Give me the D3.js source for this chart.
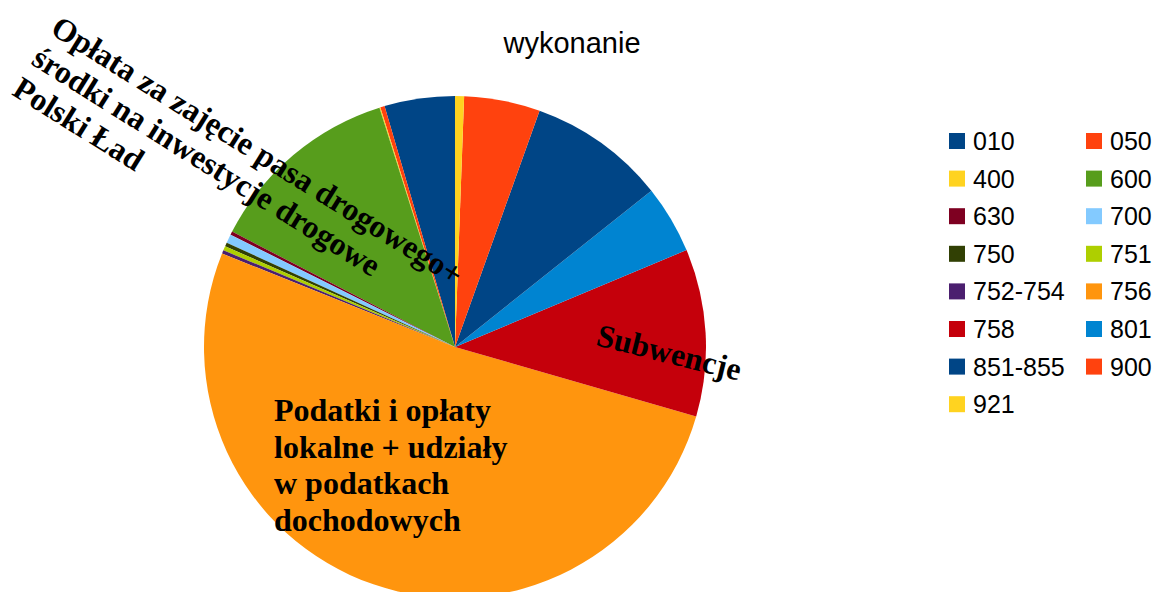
<!DOCTYPE html>
<html lang="pl">
<head>
    <meta charset="UTF-8">
    <title>wykonanie</title>
    <script src="https://d3js.org/d3.v7.min.js"></script>
    <style>
        body { margin: 0; background: #fff; }
        svg { display: block; }
    </style>
</head>
<body>
    <script>
        var w = 1155;
        var h = 592;

        // chapters (legend order) and their share of the total, in %
        var categories = ["010", "050", "400", "600", "630", "700", "750", "751",
                          "752-754", "756", "758", "801", "851-855", "900", "921"];
        var shares = [4.53, 0.28, 0.06, 12.53, 0.22, 0.56, 0.25, 0.28,
                      0.22, 51.61, 10.78, 4.39, 8.83, 4.89, 0.58];

        var palette = ["#004586", "#ff420e", "#ffd320", "#579d1c", "#7e0021", "#83caff",
                       "#314004", "#aecf00", "#4b1f6f", "#ff950e", "#c5000b", "#0084d1",
                       "#004586", "#ff420e", "#ffd320"];

        var data = categories.map(function(c, i) { return { cat: c, value: shares[i] }; });

        var color = d3.scaleOrdinal()
                .domain(categories)
                .range(palette);

        var svg = d3.select("body")
                .append("svg")
                .attr("width", w)
                .attr("height", h);

        // title
        svg.append("text")
            .attr("x", 572)
            .attr("y", 53)
            .attr("text-anchor", "middle")
            .attr("font-family", "Liberation Sans, Arial, sans-serif")
            .attr("font-size", "29px")
            .text("wykonanie");

        // pie drawn counter-clockwise from 12 o'clock
        var cx = 455, cy = 347, r = 251;

        var pie = d3.pie()
                .sort(null)
                .value(function(d) { return d.value; })
                .startAngle(0)
                .endAngle(-2 * Math.PI);

        var arc = d3.arc()
                .innerRadius(0)
                .outerRadius(r);

        var g = svg.append("g")
                .attr("transform", "translate(" + cx + "," + cy + ")");

        g.selectAll("path")
            .data(pie(data))
            .enter()
            .append("path")
            .attr("d", arc)
            .attr("fill", function(d) { return color(d.data.cat); });

        // slice labels (bold serif)
        var labelFont = "Liberation Serif, Times New Roman, serif";

        function multiline(x, y, angle, lines, lh) {
            var t = svg.append("text")
                .attr("transform", "translate(" + x + "," + y + ") rotate(" + angle + ")")
                .attr("font-family", labelFont)
                .attr("font-weight", "bold")
                .attr("font-size", "32px")
                .attr("fill", "#000");
            t.selectAll("tspan")
                .data(lines)
                .enter()
                .append("tspan")
                .attr("x", 0)
                .attr("y", function(d, i) { return i * lh; })
                .text(function(d) { return d; });
        }

        multiline(49, 33, 32, ["Opłata za zajęcie pasa drogowego+",
                               "środki na inwestycje drogowe",
                               "Polski Ład"], 36);
        multiline(595, 345, 14, ["Subwencje"], 36);
        multiline(274, 421, 0, ["Podatki i opłaty",
                                "lokalne + udziały",
                                "w podatkach",
                                "dochodowych"], 36.7);

        // legend, two columns
        var legend = svg.append("g");
        var items = legend.selectAll("g")
            .data(categories)
            .enter()
            .append("g")
            .attr("transform", function(d, i) {
                var col = i % 2;
                var row = Math.floor(i / 2);
                return "translate(" + (949 + col * 137) + "," + (141 + row * 37.6) + ")";
            });

        items.append("rect")
            .attr("x", 0)
            .attr("y", -8)
            .attr("width", 16)
            .attr("height", 16)
            .attr("fill", function(d) { return color(d); });

        items.append("text")
            .attr("x", 24)
            .attr("y", 9)
            .attr("font-family", "Liberation Sans, Arial, sans-serif")
            .attr("font-size", "25px")
            .text(function(d) { return d; });
    </script>
</body>
</html>
